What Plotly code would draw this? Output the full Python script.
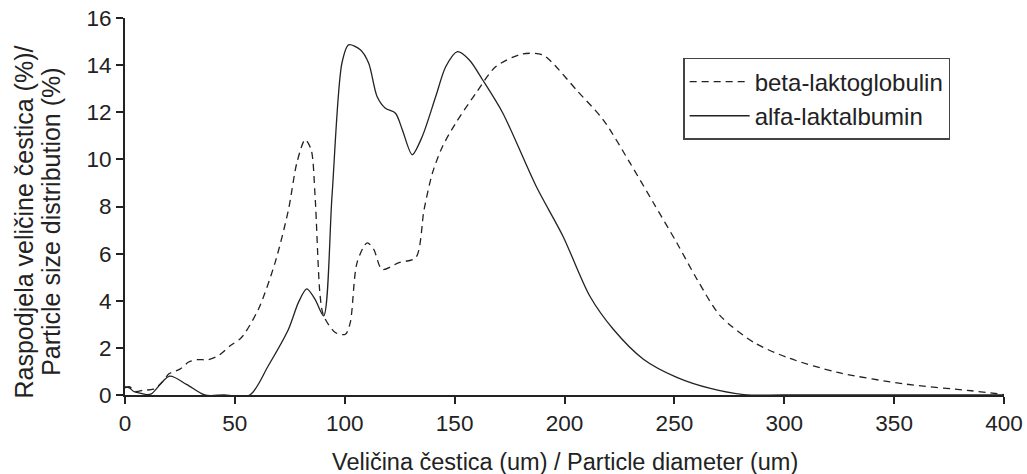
import plotly.graph_objects as go

# beta-laktoglobulin (dashed)
beta_x = [0, 2, 5, 8, 13, 17, 20, 25, 29, 33, 38, 43, 48, 53, 60.7, 68.3, 74.4, 78.2, 82, 84.7,
          86.5, 88.8, 90.4, 95.7, 100.3, 102.5, 105.6, 110.2, 113.2, 117, 124.7, 132.3, 136.1,
          139.9, 144.5, 150.5, 159.7, 168.8, 181, 190.2, 194.7, 205.4, 217.6, 229.8, 240.5,
          251.1, 260.3, 270.9, 286.2, 301.4, 324.3, 354.7, 385.2, 400]
beta_y = [0.3, 0.35, 0.15, 0.2, 0.25, 0.55, 0.9, 1.1, 1.4, 1.5, 1.5, 1.7, 2.1, 2.44, 3.64, 5.62,
          7.87, 9.85, 10.84, 10.41, 8.44, 4.2, 3.36, 2.65, 2.58, 3.07, 5.62, 6.46, 6.18, 5.33,
          5.62, 5.83, 7.87, 9.42, 10.55, 11.54, 12.81, 13.94, 14.48, 14.43, 14.08, 12.95, 11.68,
          9.85, 8.15, 6.46, 4.91, 3.36, 2.23, 1.59, 0.96, 0.47, 0.18, 0.02]

# alfa-laktalbumin (solid)
alfa_x = [0, 2, 4, 7, 10, 12, 20.3, 28, 36.3, 45, 56.8, 65.2, 74.4, 78.9, 82.7, 86.5, 90.4,
          94.2, 98.7, 101.8, 107.1, 110.9, 114.7, 118.5, 123.1, 126.2, 130.7, 135.3, 141.4,
          146, 151.3, 156.7, 162.7, 171.9, 187.1, 199.3, 211.5, 222.2, 235.9, 251.1, 266.4,
          281.6, 300, 400]
alfa_y = [0.35, 0.3, 0.15, 0.08, 0.02, 0.05, 0.8, 0.45, 0, 0, 0, 1.24, 2.79, 3.92, 4.5, 4.06,
          3.36, 8.44, 14.08, 14.86, 14.65, 14.08, 12.67, 12.17, 11.96, 11.26, 10.2, 10.98,
          12.67, 13.94, 14.57, 14.22, 13.38, 11.97, 8.86, 6.74, 4.2, 2.79, 1.52, 0.75, 0.28,
          0.02, 0, 0]

x_ticks = list(range(0, 401, 50))
y_ticks = list(range(0, 17, 2))

fig = go.Figure()
fig.add_trace(go.Scatter(x=beta_x, y=beta_y, mode='lines', name='beta-laktoglobulin',
                         line=dict(color='#222222', width=1.3, dash='7px,5px', shape='spline', smoothing=0.8)))
fig.add_trace(go.Scatter(x=alfa_x, y=alfa_y, mode='lines', name='alfa-laktalbumin',
                         line=dict(color='#222222', width=1.3, shape='spline', smoothing=0.8)))

font = 'Liberation Sans, Arial, sans-serif'
fig.update_layout(
    width=1027, height=474,
    margin=dict(l=125, r=23, t=18, b=79),
    paper_bgcolor='white', plot_bgcolor='white',
    font=dict(family=font, size=22.5, color='#222222'),
    legend=dict(x=0.635, y=0.894, xanchor='left', yanchor='top',
                bordercolor='#444444', borderwidth=1.5, bgcolor='white',
                font=dict(size=24), tracegroupgap=0, itemwidth=60),
    showlegend=True,
)
fig.update_xaxes(range=[0, 400], tickvals=x_ticks, ticks='outside', ticklen=7, tickwidth=1.5,
                 tickcolor='#222222', showline=True, linewidth=2, linecolor='#222222',
                 showgrid=False, zeroline=False, automargin=False, ticklabeloverflow='allow')
fig.update_yaxes(range=[0, 16], tickvals=y_ticks, ticks='outside', ticklen=7, tickwidth=1.5,
                 tickcolor='#222222', showline=True, linewidth=2, linecolor='#222222',
                 showgrid=False, zeroline=False, automargin=False, ticklabeloverflow='allow')

fig.add_annotation(text='Veličina čestica (um) / Particle diameter (um)',
                   xref='paper', yref='paper', x=0.5, y=-0.178, xanchor='center', yanchor='middle',
                   showarrow=False, font=dict(size=23.5))
fig.add_annotation(text='Raspodjela veličine čestica (%)/',
                   xref='paper', yref='paper', x=-0.115, y=0.46, xanchor='center', yanchor='middle',
                   textangle=-90, showarrow=False, font=dict(size=25))
fig.add_annotation(text='Particle size distribution (%)',
                   xref='paper', yref='paper', x=-0.085, y=0.46, xanchor='center', yanchor='middle',
                   textangle=-90, showarrow=False, font=dict(size=25))

# drop the default 8px page margin so the figure fills the window, no modebar
fig.write_html("out.html", config={'displayModeBar': False},
               post_script="document.body.style.margin='0px';")
